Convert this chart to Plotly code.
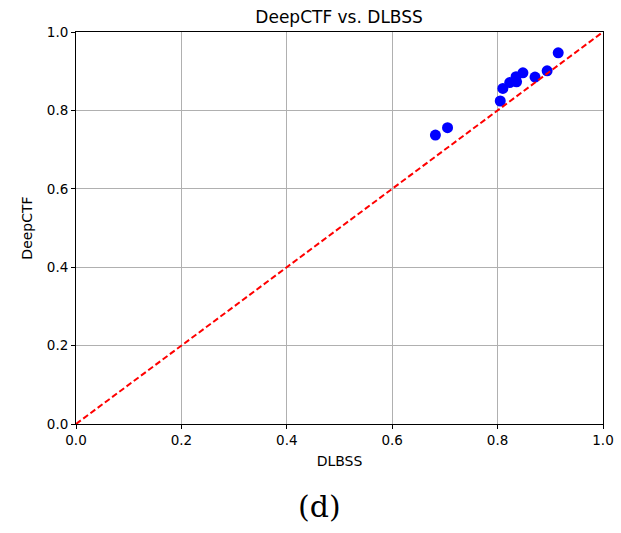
import plotly.graph_objects as go

dlbss = [0.682, 0.705, 0.805, 0.810, 0.823, 0.836, 0.835, 0.848, 0.871, 0.894, 0.915]
deepctf = [0.737, 0.756, 0.824, 0.856, 0.871, 0.873, 0.886, 0.896, 0.885, 0.901, 0.947]
diag = [0.0, 1.0]
ticks = [0.0, 0.2, 0.4, 0.6, 0.8, 1.0]
tick_text = ["0.0", "0.2", "0.4", "0.6", "0.8", "1.0"]

fig = go.Figure()
fig.add_trace(go.Scatter(x=dlbss, y=deepctf, mode="markers",
                         marker=dict(color="#0000ff", size=11, line=dict(width=0)),
                         showlegend=False))
fig.add_trace(go.Scatter(x=diag, y=diag, mode="lines",
                         line=dict(color="#ff0000", width=2, dash="6px,3px"),
                         showlegend=False))

axis_common = dict(range=[0, 1], tickvals=ticks, ticktext=tick_text,
                   showgrid=True, gridcolor="#b0b0b0", gridwidth=1,
                   showline=True, linecolor="black", linewidth=1, mirror=True,
                   ticks="outside", ticklen=4, tickcolor="black",
                   zeroline=False, automargin=False,
                   tickfont=dict(size=13.5, color="black"))

fig.update_layout(
    width=621, height=533,
    margin=dict(l=76, r=18, t=32, b=109, autoexpand=False),
    plot_bgcolor="white", paper_bgcolor="white",
    font=dict(family="DejaVu Sans", color="black"),
    title=dict(text="DeepCTF vs. DLBSS", x=0.546, xanchor="center", y=1 - 17 / 533, yanchor="middle",
               font=dict(size=17, color="black")),
    xaxis=dict(title=dict(text="DLBSS", font=dict(size=14), standoff=8), **axis_common),
    yaxis=dict(title=dict(text="DeepCTF", font=dict(size=14), standoff=10), **axis_common),
)
fig.add_annotation(text="(d)", xref="paper", yref="paper", x=(319 - 76) / 527, y=-(506 - 424) / 392,
                   xanchor="center", yanchor="middle", showarrow=False,
                   font=dict(family="DejaVu Serif, Liberation Serif, serif", size=30, color="black"))

fig.write_html("out.html", config={"displayModeBar": False},
               post_script="document.body.style.margin='0';document.body.style.padding='0';")
